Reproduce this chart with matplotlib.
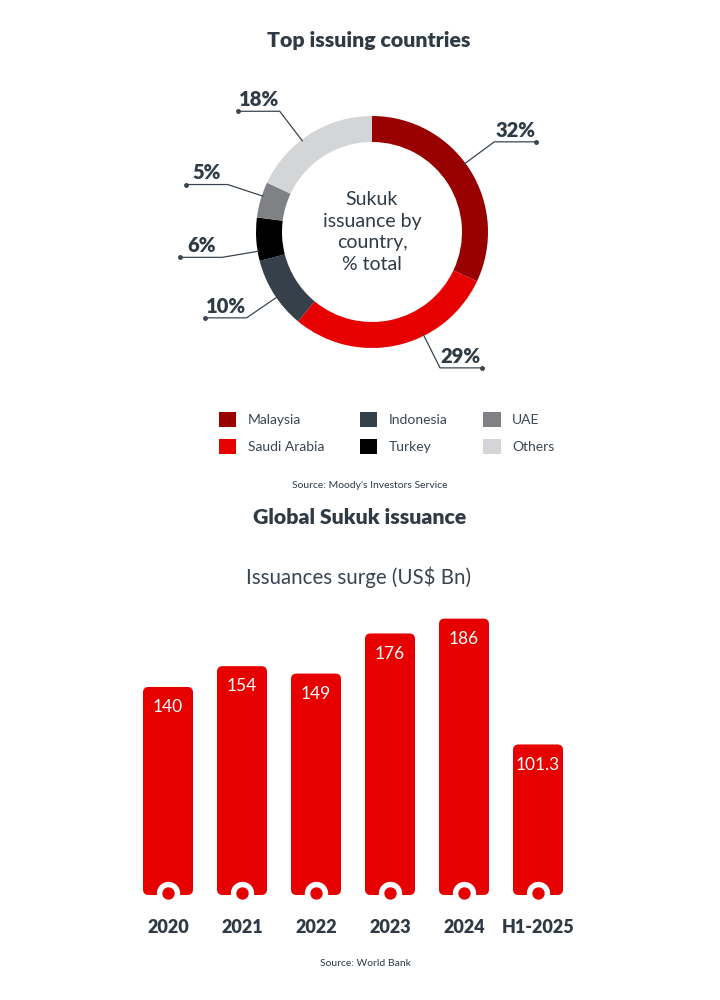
import numpy as np
import matplotlib
matplotlib.use("Agg")
import matplotlib.pyplot as plt
from matplotlib.patches import FancyBboxPatch

plt.rcParams['font.family'] = ['Lato', 'DejaVu Sans']

# Data
countries = ["Malaysia", "Saudi Arabia", "Indonesia", "Turkey", "UAE", "Others"]
shares = [32, 29, 10, 6, 5, 18]
country_colors = ["#990000", "#e60000", "#36404a", "#000000", "#7f8184", "#d3d5d6"]

years = ["2020", "2021", "2022", "2023", "2024", "H1-2025"]
issuance = [140, 154, 149, 176, 186, 101.3]

dark = "#2f3a45"
red = "#e60000"

fig = plt.figure(figsize=(7.2, 10), dpi=100)
fig.patch.set_facecolor("white")

fig.text(369 / 720, 0.959, "Top issuing countries", ha="center", va="center",
         fontsize=15.3, fontweight="heavy", color=dark)

# Donut
R = 116.0  # outer radius in px
half = 200.0
cx, cy = 372, 232
pax = fig.add_axes([(cx - half) / 720, (1000 - cy - half) / 1000, 2 * half / 720, 2 * half / 1000])
wedges, _ = pax.pie(shares, colors=country_colors, startangle=90, counterclock=False,
                    radius=1, wedgeprops=dict(width=26 / R, edgecolor="none"))
lim = half / R
pax.set_xlim(-lim, lim)
pax.set_ylim(-lim, lim)
pax.axis("off")

pax.text(0, 0.0, "Sukuk\nissuance by\ncountry,\n% total", ha="center", va="center",
         fontsize=14, color=dark, linespacing=1.32)

leader_nudge = [4, 14, 2, 6, -2, 5]
for w, s, nd in zip(wedges, shares, leader_nudge):
    ang = np.deg2rad((w.theta1 + w.theta2) / 2 + nd)
    c, sn = np.cos(ang), np.sin(ang)
    x0, y0 = 0.99 * c, 0.99 * sn
    x1, y1 = 1.31 * c, 1.31 * sn
    d = 1 if c > 0 else -1
    x2 = x1 + d * 0.36
    pax.plot([x0, x1, x2], [y0, y1, y1], color="#3a4550", lw=0.9, clip_on=False)
    pax.plot([x2], [y1], "o", color="#3a4550", ms=2.5, clip_on=False)
    pax.text((x1 + x2) / 2, y1 + 0.02, f"{s}%", ha="center", va="bottom",
             fontsize=14.5, fontweight="heavy", color=dark, clip_on=False)

leg = fig.legend(wedges, countries, ncol=3, loc="center", bbox_to_anchor=(0.537, 0.567),
                 frameon=False, fontsize=10, handlelength=1.25, handleheight=1.25,
                 handletextpad=0.8, columnspacing=2.6, labelspacing=0.85)
for t in leg.get_texts():
    t.set_color("#3a4550")

fig.text(370 / 720, 0.514, "Source: Moody's Investors Service", ha="center", va="center",
         fontsize=7.5, color=dark)

fig.text(359.5 / 720, 0.482, "Global Sukuk issuance", ha="center", va="center",
         fontsize=15.3, fontweight="heavy", color=dark)
fig.text(358.5 / 720, 0.423, "Issuances surge (US$ Bn)", ha="center", va="center",
         fontsize=14.8, color="#3a4550")

# Bars
x_left, x_right = 131, 575
y_zero, y_top = 895, 600
px_per_unit = 1.486
ymax = (y_zero - y_top) / px_per_unit
bax = fig.add_axes([x_left / 720, (1000 - y_zero) / 1000, (x_right - x_left) / 720,
                    (y_zero - y_top) / 1000])
xs = np.arange(len(years))
bars = bax.bar(xs, issuance, width=50 / 74, color=red)
bax.set_xlim(-0.5, len(years) - 0.5)
bax.set_ylim(0, ymax)

asp = (ymax / (y_zero - y_top)) / (len(years) / (x_right - x_left))
for b in bars:
    p = FancyBboxPatch((b.get_x(), b.get_y()), b.get_width(), b.get_height(),
                       boxstyle="round,pad=0,rounding_size=0.075", mutation_aspect=asp,
                       fc=red, ec="none", zorder=2)
    b.remove()
    bax.add_patch(p)

bax.scatter(xs, [1.4] * len(xs), s=250, color="white", zorder=3, clip_on=False)
bax.scatter(xs, [1.4] * len(xs), s=62, color=red, zorder=4, clip_on=False)

for xi, v in zip(xs, issuance):
    lbl = f"{v:g}"
    bax.annotate(lbl, (xi, v), xytext=(0, -14.5), textcoords="offset points",
                 ha="center", va="center", fontsize=12.5, color="white")

bax.set_xticks(xs)
bax.set_xticklabels(years, fontsize=13, fontweight="heavy", color=dark)
bax.tick_params(axis="x", length=0, pad=17)
bax.set_yticks([])
for sp in bax.spines.values():
    sp.set_visible(False)

fig.text(365 / 720, 0.036, "Source: World Bank", ha="center", va="center",
         fontsize=7.5, color=dark)

fig.savefig("out.png", dpi=100, facecolor="white")
